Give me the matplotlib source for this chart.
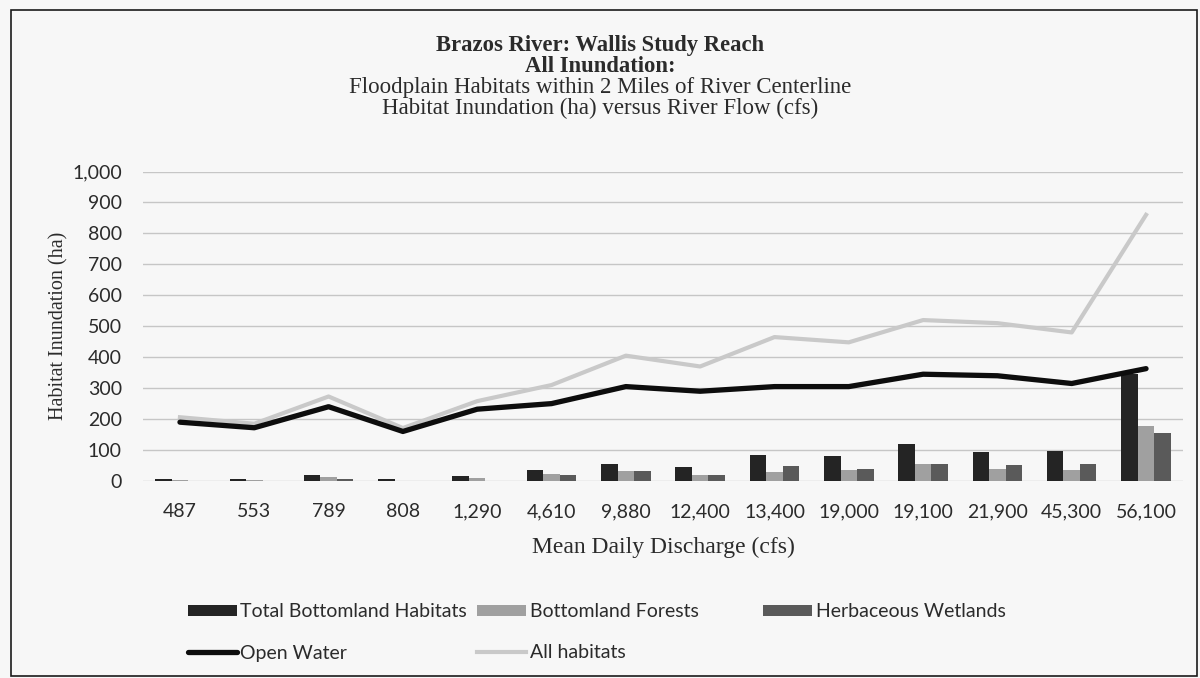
import matplotlib.pyplot as plt
import numpy as np
from matplotlib.patches import Rectangle
from matplotlib.ticker import FuncFormatter

# Mean daily discharge categories (cfs)
flows = ['487', '553', '789', '808', '1,290', '4,610', '9,880', '12,400',
         '13,400', '19,000', '19,100', '21,900', '45,300', '56,100']

# Habitat inundation (ha)
total_bottomland = [5, 5, 20, 7, 17, 36, 56, 45, 85, 80, 118, 93, 97, 345]
bottomland_forests = [3, 4, 13, 0, 9, 24, 32, 18, 28, 36, 56, 40, 36, 178]
herbaceous_wetlands = [0, 0, 6, 0, 0, 19, 33, 20, 48, 38, 56, 52, 54, 156]
open_water = [190, 172, 240, 160, 232, 250, 305, 290, 305, 305, 345, 340, 315, 363]
all_habitats = [206, 185, 273, 171, 258, 310, 405, 370, 465, 448, 520, 510, 480, 860]

serif = 'Liberation Serif'
sans = 'Lato'
text_color = '#2b2b2b'
bg = '#f7f7f7'

fig = plt.figure(figsize=(12, 6.78), dpi=100, facecolor=bg)
ax = fig.add_axes([0.119, 0.2906, 0.867, 0.4564], facecolor=bg)

x = np.arange(len(flows))
w = 0.222
b1 = ax.bar(x - w, total_bottomland, width=w, color='#242424', zorder=2)
b2 = ax.bar(x, bottomland_forests, width=w, color='#a0a0a0', zorder=2)
b3 = ax.bar(x + w, herbaceous_wetlands, width=w, color='#5a5a5a', zorder=2)
l1, = ax.plot(x, open_water, color='#0d0d0d', linewidth=3.8, zorder=4,
              solid_capstyle='round')
l2, = ax.plot(x, all_habitats, color='#c9c9c9', linewidth=3.0, zorder=3)

ax.set_xlim(-0.5, len(flows) - 0.5)
ax.set_ylim(0, 1000)
ax.set_yticks(np.arange(0, 1001, 100))
ax.yaxis.set_major_formatter(FuncFormatter(lambda v, p: f'{int(v):,}'))
ax.set_xticks(x)
ax.set_xticklabels(flows)
ax.grid(axis='y', color='#c6c6c6', linewidth=1.0, zorder=0)
for s in ax.spines.values():
    s.set_visible(False)
ax.tick_params(length=0, labelsize=14, colors=text_color)
ax.tick_params(axis='y', pad=15)
ax.tick_params(axis='x', pad=16)
for lab in ax.get_xticklabels() + ax.get_yticklabels():
    lab.set_family(sans)

ax.set_xlabel('Mean Daily Discharge (cfs)', family=serif, fontsize=17,
              color=text_color, labelpad=12)
ax.set_ylabel('Habitat Inundation (ha)', family=serif, fontsize=14.5,
              color=text_color, labelpad=3)

# Titles
fig.text(0.5, 1 - 45 / 678, 'Brazos River: Wallis Study Reach', family=serif,
         fontsize=16.3, fontweight='bold', ha='center', va='center', color=text_color)
fig.text(0.5, 1 - 66.5 / 678, 'All Inundation:', family=serif,
         fontsize=16.3, fontweight='bold', ha='center', va='center', color=text_color)
fig.text(0.5, 1 - 87 / 678, 'Floodplain Habitats within 2 Miles of River Centerline',
         family=serif, fontsize=16.5, ha='center', va='center', color=text_color)
fig.text(0.5, 1 - 108 / 678, 'Habitat Inundation (ha) versus River Flow (cfs)',
         family=serif, fontsize=16.5, ha='center', va='center', color=text_color)

# Legend, laid out in three columns like the original
leg_kw = dict(frameon=False, prop={'family': sans, 'size': 14}, handlelength=2.5,
              handleheight=0.5, handletextpad=0.2, labelspacing=1.26,
              borderpad=0, borderaxespad=0, labelcolor=text_color)
top = 1 - 603 / 678
fig.legend([b1, l1], ['Total Bottomland Habitats', 'Open Water'],
           loc='upper left', bbox_to_anchor=(188 / 1200, top), **leg_kw)
fig.legend([b2, l2], ['Bottomland Forests', 'All habitats'],
           loc='upper left', bbox_to_anchor=(477 / 1200, top), **leg_kw)
fig.legend([b3], ['Herbaceous Wetlands'],
           loc='upper left', bbox_to_anchor=(763 / 1200, top), **leg_kw)

# Outer frame
fig.patches.append(Rectangle((11 / 1200, 2 / 678), 1186 / 1200, 666 / 678,
                             transform=fig.transFigure, fill=False,
                             edgecolor='#1a1a1a', linewidth=1.2))

plt.savefig('out.png', dpi=100, facecolor=bg)
